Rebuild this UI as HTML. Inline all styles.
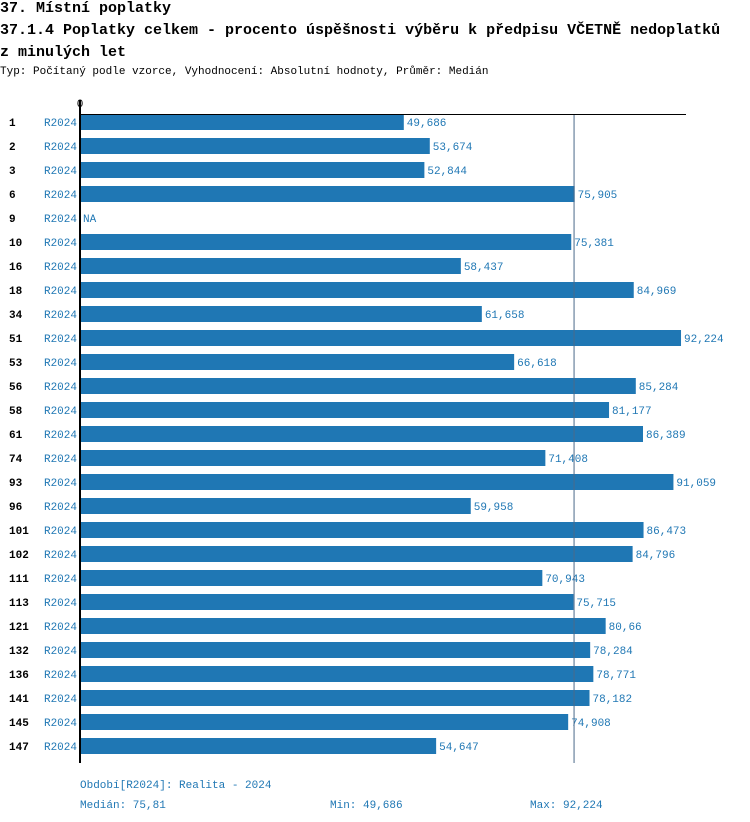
<!DOCTYPE html>
<html><head><meta charset="utf-8"><style>
body{margin:0;background:#fff;width:750px;height:822px;overflow:hidden;font-family:"Liberation Mono",monospace}
.t{position:absolute;left:0;font-weight:bold;font-size:15px;color:#000;white-space:nowrap}
</style></head><body>
<div class="t" style="top:0px">37. Místní poplatky</div>
<div class="t" style="top:22px">37.1.4 Poplatky celkem - procento úspěšnosti výběru k předpisu VČETNĚ nedoplatků</div>
<div class="t" style="top:44px">z minulých let</div>
<div style="position:absolute;left:0;top:66px;font-size:11px;white-space:nowrap">Typ: Počítaný podle vzorce, Vyhodnocení: Absolutní hodnoty, Průměr: Medián</div>
<svg id="c" width="750" height="822" style="position:absolute;left:0;top:0" font-family="Liberation Mono, monospace"></svg>
<script>
const categories=["1","2","3","6","9","10","16","18","34","51","53","56","58","61","74","93","96","101","102","111","113","121","132","136","141","145","147"];
const values=[49.686,53.674,52.844,75.905,null,75.381,58.437,84.969,61.658,92.224,66.618,85.284,81.177,86.389,71.408,91.059,59.958,86.473,84.796,70.943,75.715,80.66,78.284,78.771,78.182,74.908,54.647];
const labels=["49,686","53,674","52,844","75,905","NA","75,381","58,437","84,969","61,658","92,224","66,618","85,284","81,177","86,389","71,408","91,059","59,958","86,473","84,796","70,943","75,715","80,66","78,284","78,771","78,182","74,908","54,647"];
const median=75.81;
const NS="http://www.w3.org/2000/svg",svg=document.getElementById('c');
const x=v=>80+v*6.517, y=i=>122+i*24;
function mk(t,a,txt){const e=document.createElementNS(NS,t);for(const k in a)e.setAttribute(k,a[k]);if(txt!=null)e.textContent=txt;svg.appendChild(e);return e;}
categories.forEach((c,i)=>{
  let e=mk('text',{x:9,y:y(i)+4,'font-size':11,'font-weight':'bold',fill:'#000'},c);
  
  
  e=mk('text',{x:77,y:y(i)+4,'font-size':11,fill:'#1f77b4','text-anchor':'end'},'R2024');
  
  
  const v=values[i];
  if(v!=null){
    e=mk('rect',{x:80,y:y(i)-8,width:x(v)-80,height:16,fill:'#1f77b4'});
    
    
  }
  e=mk('text',{x:(v!=null?x(v):80)+3,y:y(i)+4,'font-size':11,fill:'#1f77b4'},labels[i]);
  
  
});
let e=mk('line',{x1:x(median),x2:x(median),y1:114,y2:763,stroke:'#4a6a8a','stroke-width':1});


e=mk('line',{x1:80,x2:686,y1:114.5,y2:114.5,stroke:'#000','stroke-width':1});


e=mk('line',{x1:80,x2:80,y1:100,y2:763,stroke:'#000','stroke-width':2});


e=mk('text',{x:80,y:107,'font-size':11,'text-anchor':'middle',fill:'#000'},'0');


e=mk('text',{x:80,y:788,'font-size':11,fill:'#1f77b4'},'Období[R2024]: Realita - 2024');


e=mk('text',{x:80,y:808,'font-size':11,fill:'#1f77b4'},'Medián: 75,81');


e=mk('text',{x:330,y:808,'font-size':11,fill:'#1f77b4'},'Min: 49,686');


e=mk('text',{x:530,y:808,'font-size':11,fill:'#1f77b4'},'Max: 92,224');


</script>
</body></html>
